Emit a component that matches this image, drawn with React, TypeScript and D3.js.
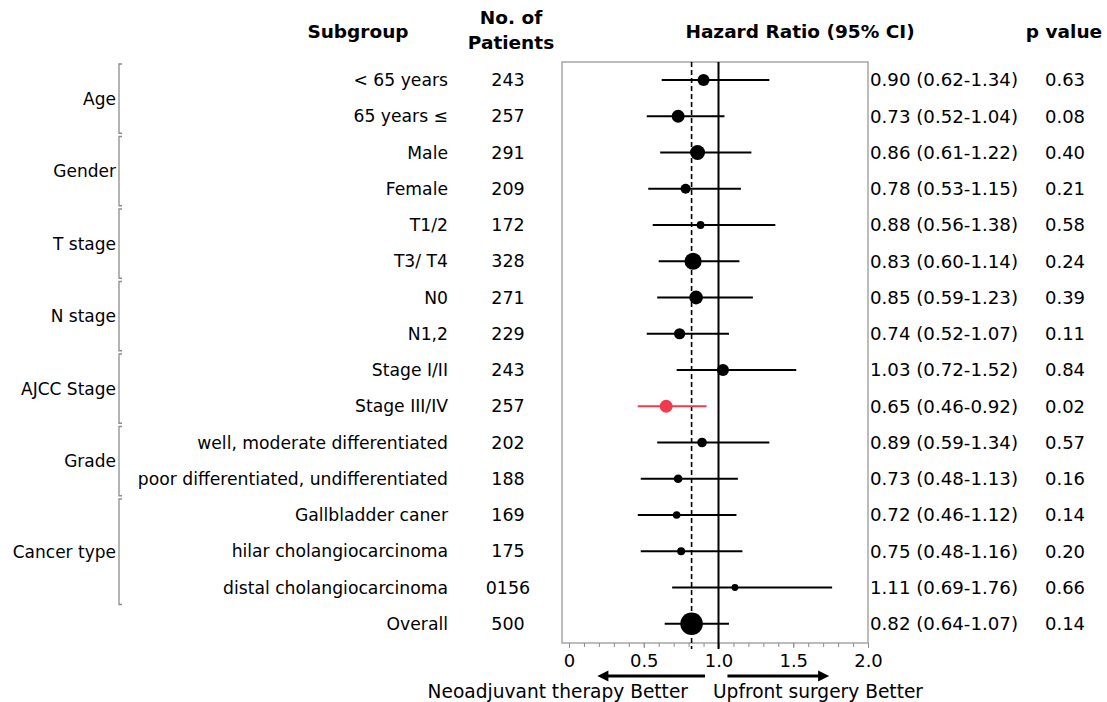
import React, { useEffect, useRef } from "react";
import * as d3 from "d3";

const subgroups = [
  "< 65 years",
  "65 years \u2264",
  "Male",
  "Female",
  "T1/2",
  "T3/ T4",
  "N0",
  "N1,2",
  "Stage I/II",
  "Stage III/IV",
  "well, moderate differentiated",
  "poor differentiated, undifferentiated",
  "Gallbladder caner",
  "hilar cholangiocarcinoma",
  "distal cholangiocarcinoma",
  "Overall",
];
const rowGroup = [
  "Age", "Age",
  "Gender", "Gender",
  "T stage", "T stage",
  "N stage", "N stage",
  "AJCC Stage", "AJCC Stage",
  "Grade", "Grade",
  "Cancer type", "Cancer type", "Cancer type",
  "",
];
const patients = ["243", "257", "291", "209", "172", "328", "271", "229", "243", "257", "202", "188", "169", "175", "0156", "500"];
const hr = [0.9, 0.73, 0.86, 0.78, 0.88, 0.83, 0.85, 0.74, 1.03, 0.65, 0.89, 0.73, 0.72, 0.75, 1.11, 0.82];
const lower = [0.62, 0.52, 0.61, 0.53, 0.56, 0.6, 0.59, 0.52, 0.72, 0.46, 0.59, 0.48, 0.46, 0.48, 0.69, 0.64];
const upper = [1.34, 1.04, 1.22, 1.15, 1.38, 1.14, 1.23, 1.07, 1.52, 0.92, 1.34, 1.13, 1.12, 1.16, 1.76, 1.07];
const pValues = ["0.63", "0.08", "0.40", "0.21", "0.58", "0.24", "0.39", "0.11", "0.84", "0.02", "0.57", "0.16", "0.14", "0.20", "0.66", "0.14"];
const xTicks = [0, 0.5, 1.0, 1.5, 2.0];
const overallHR = 0.82;

const W = 1107;
const H = 702;
const FONT = "DejaVu Sans, Verdana, sans-serif";
const BOX = { LEFT: 562, RIGHT: 868, TOP: 62, BOTTOM: 643 };
const RED = "#f23a4f";

const App = () => {
  const svgRef = useRef<SVGSVGElement>(null);

  useEffect(() => {
    const svg = d3.select(svgRef.current);
    svg.selectAll("*").remove();

    const x = d3.scaleLinear().domain([0, 2]).range([569, 868]);
    const y = d3
      .scalePoint<number>()
      .domain(d3.range(subgroups.length))
      .range([80, 623.75]);
    const r = d3
      .scaleLinear()
      .domain([156, 328, 500])
      .range([3.4, 8.6, 11.3]);

    const isRed = (i: number) => +pValues[i] < 0.05;

    // headers
    const head = svg
      .append("g")
      .attr("font-family", FONT)
      .attr("font-weight", "bold")
      .attr("font-size", 18.5)
      .attr("text-anchor", "middle");
    head.append("text").attr("x", 358).attr("y", 38).text("Subgroup");
    head.append("text").attr("x", 511).attr("y", 24).text("No. of");
    head.append("text").attr("x", 511).attr("y", 49).text("Patients");
    head.append("text").attr("x", 800).attr("y", 38).text("Hazard Ratio (95% CI)");
    head.append("text").attr("x", 1064).attr("y", 38).text("p value");

    // group brackets
    const groups = Array.from(new Set(rowGroup.filter((g) => g)));
    const gb = svg.append("g");
    groups.forEach((g) => {
      const rows = d3.range(rowGroup.length).filter((i) => rowGroup[i] === g);
      const y0 = y(rows[0])! - 16;
      const y1 = y(rows[rows.length - 1])! + 17;
      gb.append("path")
        .attr("d", `M122,${y0}H119V${y1}H122`)
        .attr("fill", "none")
        .attr("stroke", "#8c8c8c")
        .attr("stroke-width", 1.3);
      gb.append("text")
        .attr("x", 116)
        .attr("y", (y0 + y1) / 2)
        .attr("dy", "0.35em")
        .attr("text-anchor", "end")
        .attr("font-family", FONT)
        .attr("font-size", 17)
        .text(g);
    });

    // left table
    const rowsG = svg
      .append("g")
      .selectAll("g")
      .data(subgroups)
      .join("g")
      .attr("transform", (_, i) => `translate(0,${y(i)})`)
      .attr("font-family", FONT);
    rowsG
      .append("text")
      .attr("x", 448)
      .attr("dy", "0.35em")
      .attr("text-anchor", "end")
      .attr("font-size", 17.2)
      .text((d) => d);
    rowsG
      .append("text")
      .attr("x", 508)
      .attr("dy", "0.35em")
      .attr("text-anchor", "middle")
      .attr("font-size", 17.5)
      .text((_, i) => patients[i]);
    rowsG
      .append("text")
      .attr("x", 870)
      .attr("dy", "0.35em")
      .attr("font-size", 18.2)
      .text((_, i) => `${hr[i].toFixed(2)} (${lower[i].toFixed(2)}-${upper[i].toFixed(2)})`);
    rowsG
      .append("text")
      .attr("x", 1065)
      .attr("dy", "0.35em")
      .attr("text-anchor", "middle")
      .attr("font-size", 18)
      .text((_, i) => pValues[i]);

    // plot box
    svg
      .append("rect")
      .attr("x", BOX.LEFT)
      .attr("y", BOX.TOP)
      .attr("width", BOX.RIGHT - BOX.LEFT)
      .attr("height", BOX.BOTTOM - BOX.TOP)
      .attr("fill", "none")
      .attr("stroke", "#a6a6a6")
      .attr("stroke-width", 1.5);

    // axis
    const axisG = svg.append("g").attr("transform", `translate(0,${BOX.BOTTOM})`);
    axisG
      .call(d3.axisBottom(x).tickValues(d3.range(0, 2.01, 0.1)).tickSize(4).tickFormat(() => ""))
      .call((g) => g.select(".domain").remove())
      .call((g) => g.selectAll("line").attr("stroke", "#8c8c8c"));
    const majorG = svg.append("g").attr("transform", `translate(0,${BOX.BOTTOM})`);
    majorG
      .call(d3.axisBottom(x).tickValues(xTicks).tickSize(5).tickPadding(6).tickFormat(d3.format(".1f")))
      .call((g) => g.select(".domain").remove())
      .call((g) => g.selectAll("line").attr("stroke", "#8c8c8c"))
      .call((g) =>
        g
          .selectAll("text")
          .attr("font-family", FONT)
          .attr("font-size", 18)
          .attr("fill", "#000")
          .text((d: any) => (d === 0 ? "0" : d3.format(".1f")(d)))
      );

    // reference lines
    svg
      .append("line")
      .attr("x1", x(overallHR))
      .attr("x2", x(overallHR))
      .attr("y1", BOX.TOP)
      .attr("y2", BOX.BOTTOM + 6)
      .attr("stroke", "#000")
      .attr("stroke-width", 1.6)
      .attr("stroke-dasharray", "5,3");
    svg
      .append("line")
      .attr("x1", x(1))
      .attr("x2", x(1))
      .attr("y1", BOX.TOP)
      .attr("y2", BOX.BOTTOM + 6)
      .attr("stroke", "#000")
      .attr("stroke-width", 2);

    // CIs and points
    const marks = svg
      .append("g")
      .selectAll("g")
      .data(hr)
      .join("g")
      .attr("transform", (_, i) => `translate(0,${y(i)})`);
    marks
      .append("line")
      .attr("x1", (_, i) => x(lower[i]))
      .attr("x2", (_, i) => x(upper[i]))
      .attr("stroke", (_, i) => (isRed(i) ? RED : "#000"))
      .attr("stroke-width", 2);
    marks
      .append("circle")
      .attr("cx", (d) => x(d))
      .attr("r", (_, i) => r(+patients[i]))
      .attr("fill", (_, i) => (isRed(i) ? RED : "#000"));

    // direction arrows
    const arrowY = 676;
    const arrow = (from: number, to: number) => {
      const x0 = x(from);
      const x1 = x(to);
      const dir = Math.sign(x1 - x0);
      svg
        .append("line")
        .attr("x1", x0)
        .attr("x2", x1 - dir * 8)
        .attr("y1", arrowY)
        .attr("y2", arrowY)
        .attr("stroke", "#000")
        .attr("stroke-width", 3);
      svg
        .append("path")
        .attr("d", `M${x1},${arrowY}L${x1 - dir * 11},${arrowY - 5.5}L${x1 - dir * 11},${arrowY + 5.5}Z`)
        .attr("fill", "#000");
    };
    arrow(0.91, 0.19);
    arrow(1.06, 1.74);

    const foot = svg.append("g").attr("font-family", FONT).attr("font-size", 18.6);
    foot
      .append("text")
      .attr("x", 688)
      .attr("y", 698)
      .attr("text-anchor", "end")
      .text("Neoadjuvant therapy Better");
    foot.append("text").attr("x", 713).attr("y", 698).text("Upfront surgery Better");
  }, []);

  return (
    <svg
      ref={svgRef}
      width={W}
      height={H}
      style={{ position: "absolute", left: 0, top: 0, background: "#fff" }}
    />
  );
};

export default App;
